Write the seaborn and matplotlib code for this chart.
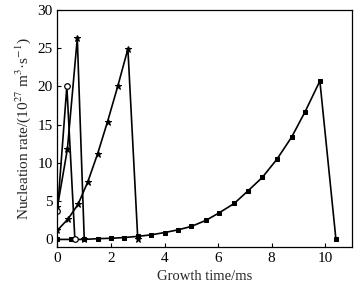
import matplotlib
matplotlib.use("Agg")
import matplotlib.pyplot as plt
import seaborn as sns
import pandas as pd

sns.set_style("ticks")
plt.rcParams['font.family'] = ['Liberation Serif', 'DejaVu Serif']
plt.rcParams['mathtext.fontset'] = 'stix'

# Series 1: open circles
x_circ = [0.0, 0.35, 0.65]
y_circ = [3.7, 20.0, 0.0]

# Series 2: stars (tall narrow peak)
x_star1 = [0.0, 0.37, 0.74, 1.0]
y_star1 = [4.3, 11.8, 26.3, 0.0]

# Series 3: stars (peak near 2.6 ms)
x_star2 = [0.0, 0.4, 0.77, 1.13, 1.5, 1.87, 2.25, 2.63, 3.0]
y_star2 = [1.2, 2.7, 4.6, 7.5, 11.2, 15.4, 20.0, 24.9, 0.0]

# Series 4: filled squares
x_sq = [0.0, 0.5, 1.0, 1.5, 2.0, 2.5, 3.0, 3.5, 4.0, 4.5, 5.0, 5.55, 6.05,
        6.6, 7.1, 7.65, 8.2, 8.75, 9.25, 9.8, 10.4]
y_sq = [0.0, 0.0, 0.0, 0.1, 0.15, 0.25, 0.4, 0.6, 0.9, 1.25, 1.7, 2.5, 3.5,
        4.7, 6.3, 8.1, 10.5, 13.4, 16.7, 20.7, 0.0]

x_ticks = [0, 2, 4, 6, 8, 10]
y_ticks = [0, 5, 10, 15, 20, 25, 30]

fig = plt.figure(figsize=(3.57, 2.90), dpi=100)
ax = fig.add_axes([0.161, 0.148, 0.825, 0.818])

lw = 1.2
sns.lineplot(x=x_sq, y=y_sq, ax=ax, color='black', lw=lw, marker='s',
             markersize=3.4, markerfacecolor='black', markeredgecolor='black',
             estimator=None, sort=False)
sns.lineplot(x=x_star2, y=y_star2, ax=ax, color='black', lw=lw, marker='*',
             markersize=4.5, markerfacecolor='black', markeredgecolor='black',
             estimator=None, sort=False)
sns.lineplot(x=x_star1, y=y_star1, ax=ax, color='black', lw=lw, marker='*',
             markersize=4.5, markerfacecolor='black', markeredgecolor='black',
             estimator=None, sort=False)
sns.lineplot(x=x_circ, y=y_circ, ax=ax, color='black', lw=lw, marker='o',
             markersize=4, markerfacecolor='white', markeredgecolor='black',
             markeredgewidth=0.9, estimator=None, sort=False)

ax.set_xlim(0, 11)
ax.set_ylim(-1, 30)
ax.set_xticks(x_ticks)
ax.set_yticks(y_ticks)
ax.tick_params(direction='in', length=3, width=0.8, labelsize=11, colors='black')
for s in ax.spines.values():
    s.set_visible(True)
    s.set_linewidth(0.9)
    s.set_color('black')

ax.set_xlabel('Growth time/ms', fontsize=10.5, labelpad=4)
ax.set_ylabel('Nucleation rate/(10$^{27}$ m$^{3}$·s$^{-1}$)', fontsize=11, labelpad=3)

fig.savefig('out.png', dpi=100)
